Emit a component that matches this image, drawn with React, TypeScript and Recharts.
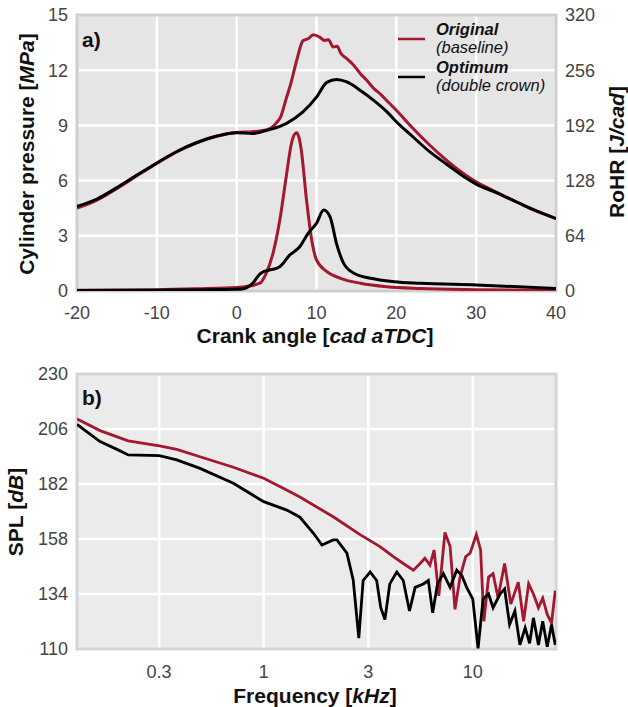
import React from "react";
import {
  CartesianGrid,
  Label,
  Legend,
  Line,
  LineChart,
  ReferenceArea,
  XAxis,
  YAxis,
} from "recharts";

const FONT = '"Liberation Sans", Arial, Helvetica, sans-serif';
const RED = "#a3172f";
const INK = "#111";
const TICK = { fill: "#444", fontSize: 18, fontFamily: FONT };

// panel a) cylinder pressure [MPa]
const pOrigCad = [-20, -17.5, -15, -12.5, -10, -7.5, -5, -2.5, 0, 2, 4, 5, 5.5, 6.2, 6.8, 7.5, 8.3, 9, 9.6, 10.4, 11, 11.5, 12.1, 12.6, 13, 13.8, 14.6, 15.5, 16.3, 17.2, 18, 18.8, 20, 22.1, 24.2, 26.3, 28.4, 30, 32.5, 35, 37.5, 40];
const pOrigVal = [4.5, 4.94, 5.57, 6.26, 6.93, 7.56, 8.05, 8.41, 8.62, 8.66, 8.8, 9.15, 9.45, 10.45, 11.3, 12.5, 13.6, 13.72, 13.93, 13.8, 13.62, 13.66, 13.26, 13.3, 12.95, 12.63, 12.3, 11.81, 11.45, 11.0, 10.7, 10.35, 9.82, 8.83, 7.92, 7.1, 6.39, 5.93, 5.38, 4.85, 4.37, 3.94];
const pOptCad = [-20, -17.5, -15, -12.5, -10, -7.5, -5, -2.5, 0, 2, 4.1, 6.2, 8.3, 10, 11.3, 12.5, 13.8, 15.5, 17.2, 18.8, 20, 22.1, 24.2, 26.3, 28.4, 30, 32.5, 35, 37.5, 40];
const pOptVal = [4.6, 5.0, 5.62, 6.3, 6.96, 7.58, 8.07, 8.42, 8.6, 8.56, 8.77, 9.1, 9.73, 10.54, 11.34, 11.49, 11.36, 10.9, 10.35, 9.75, 9.2, 8.37, 7.56, 6.89, 6.24, 5.81, 5.35, 4.85, 4.35, 3.94];

// panel a) rate of heat release [J/cad]
const hOrigCad = [-20, -10, -5, 0, 1, 2.9, 3.7, 4.55, 5.4, 6.2, 6.86, 7.2, 7.5, 7.8, 8.1, 8.75, 9.4, 10, 11.3, 13, 15.5, 18.8, 23, 30, 40];
const hOrigVal = [1, 1.5, 2.5, 4, 5, 9, 20.5, 43.7, 82, 132, 171, 181, 183.5, 178, 163, 105.5, 59, 36, 22.4, 14.7, 9, 5, 3, 1.5, 0.5];
const hOptCad = [-20, -10, 0, 1, 2, 2.9, 3.5, 4.1, 5.4, 6.65, 7.9, 8.95, 10, 10.9, 11.7, 12.5, 13.4, 14.7, 16.8, 19.7, 23, 30, 40];
const hOptVal = [0.5, 1, 2, 3, 9, 19.7, 23, 24.3, 28.2, 41.7, 51.3, 66.9, 78.5, 93.9, 86, 55.3, 32, 20.5, 14.7, 10.8, 9, 7, 3];

// panel b) sound pressure level [dB]
const fOrig = [0.128, 0.131, 0.165, 0.225, 0.317, 0.384, 0.496, 0.716, 1.0, 1.24, 1.49, 2.15, 2.89, 3.6, 4.17, 4.65, 5.2, 5.6, 5.9, 6.24, 6.53, 6.88, 7.36, 7.79, 8.22, 8.69, 9.25, 9.71, 10.4, 10.9, 11.3, 11.9, 12.5, 13.2, 14.2, 15.2, 16.5, 17.5, 18.5, 19.5, 20.6, 21.6, 22.7, 23.8, 24.8];
const splOrig = [210.4, 209.9, 205.3, 200.8, 198.6, 197.1, 193.9, 189.3, 184.5, 180.1, 176.3, 167.7, 159.9, 154.7, 150.3, 147.3, 144.4, 147.3, 149.6, 146.6, 153.2, 133.2, 160.9, 154.7, 127.3, 141.4, 150.3, 151.8, 159.9, 153.2, 122.1, 141.4, 142.9, 132.5, 147.3, 129.6, 139.2, 122.1, 138.4, 134, 128, 132.2, 125.1, 121.4, 135.5];
const fOpt = [0.128, 0.165, 0.2, 0.225, 0.317, 0.384, 0.496, 0.716, 1.0, 1.29, 1.49, 1.73, 1.9, 2.15, 2.24, 2.5, 2.68, 2.85, 2.99, 3.23, 3.47, 3.63, 3.8, 4.01, 4.33, 4.65, 4.98, 5.3, 5.8, 6.13, 6.43, 6.78, 7.23, 7.79, 8.38, 8.86, 9.35, 10.0, 10.6, 11.2, 11.9, 12.5, 13.5, 14.2, 15.0, 15.9, 16.8, 17.8, 18.7, 19.5, 20.6, 21.6, 22.7, 23.8, 24.8];
const splOpt = [208, 200.5, 197, 194.7, 194.4, 192.5, 188.8, 182.3, 174.3, 170.6, 167.5, 160.5, 155.4, 157.6, 157.6, 151.8, 140.1, 114.7, 139.9, 143.6, 139.9, 128, 122.9, 138.4, 143.6, 139.9, 126.6, 136.9, 138.4, 139.9, 125.8, 138.4, 142.9, 136.9, 144.4, 142.1, 136.9, 131.8, 110.3, 131.8, 134, 128, 134, 136.2, 120.7, 126.6, 111.8, 119.2, 112.5, 123.6, 111.8, 122.1, 111, 120.7, 111.8];

const cadTicks = [-20, -10, 0, 10, 20, 30, 40];
const pTicks = [0, 3, 6, 9, 12, 15];
const hTicks = [0, 64, 128, 192, 256, 320];
const splTicks = [110, 134, 158, 182, 206, 230];
// half-decade ticks, labelled rounded as in the original figure
const fTicks = [Math.sqrt(0.1), 1, Math.sqrt(10), 10];
const fTickLabels = ["0.3", "1", "3", "10"];

const legendItems = [
  { name: "Original", note: "(baseline)", color: RED },
  { name: "Optimum", note: "(double crown)", color: "#000" },
];

const zip = (xs: number[], ys: number[], k: string) =>
  xs.map((x, i) => ({ x, [k]: ys[i] }));

const pOrig = zip(pOrigCad, pOrigVal, "p");
const pOpt = zip(pOptCad, pOptVal, "p");
const hOrig = zip(hOrigCad, hOrigVal, "h");
const hOpt = zip(hOptCad, hOptVal, "h");
const sOrig = zip(fOrig, splOrig, "s");
const sOpt = zip(fOpt, splOpt, "s");

const titleStyle = { fontFamily: FONT, fontSize: 21, fontWeight: 700, fill: INK };

function VTitle({ x, y, main, unit }: { x: number; y: number; main: string; unit: string }) {
  return (
    <text x={x} y={y} transform={`rotate(-90 ${x} ${y})`} textAnchor="middle" style={titleStyle}>
      {main} [<tspan fontStyle="italic">{unit}</tspan>]
    </text>
  );
}

function HTitle({ x, y, main, unit }: { x: number; y: number; main: string; unit: string }) {
  return (
    <text x={x} y={y} textAnchor="middle" style={titleStyle}>
      {main} [<tspan fontStyle="italic">{unit}</tspan>]
    </text>
  );
}

function LegendBox() {
  return (
    <svg width={210} height={80} style={{ display: "block" }}>
      {legendItems.map((it, i) => (
        <g key={it.name} transform={`translate(0 ${i * 38})`}>
          <line x1={2} x2={29} y1={19} y2={19} stroke={it.color} strokeWidth={2.5} />
          <text x={40} y={15} fontFamily={FONT} fontSize={16.5} fontWeight={700} fontStyle="italic" fill={INK}>
            {it.name}
          </text>
          <text x={40} y={33} fontFamily={FONT} fontSize={16.5} fontStyle="italic" fill={INK}>
            {it.note}
          </text>
        </g>
      ))}
    </svg>
  );
}

export default function App() {
  return (
    <div style={{ position: "absolute", left: 0, top: 0, width: 628, height: 707, background: "#fff" }}>
      <div style={{ position: "absolute", left: 0, top: 0 }}>
        <LineChart width={628} height={360} margin={{ top: 15, right: 0, bottom: 0, left: 0 }}>
          <CartesianGrid fill="#e5e5e5" stroke="#fff" strokeWidth={2.5} />
          <XAxis
            type="number"
            dataKey="x"
            domain={[-20, 40]}
            ticks={cadTicks}
            allowDataOverflow
            height={69}
            axisLine={false}
            tickLine={false}
            tickSize={0}
            tickMargin={15}
            tick={TICK}
          >
            <Label content={() => <HTitle x={315} y={343} main="Crank angle" unit="cad aTDC" />} />
          </XAxis>
          <YAxis
            domain={[0, 15]}
            ticks={pTicks}
            allowDataOverflow
            width={77}
            axisLine={false}
            tickLine={false}
            tickSize={0}
            tickMargin={9}
            tick={TICK}
          >
            <Label
              content={() => (
                <g>
                  <VTitle x={34} y={154} main="Cylinder pressure" unit="MPa" />
                  <text x={82} y={47} style={titleStyle}>a)</text>
                </g>
              )}
            />
          </YAxis>
          <YAxis
            yAxisId="r"
            orientation="right"
            domain={[0, 320]}
            ticks={hTicks}
            allowDataOverflow
            width={72}
            axisLine={false}
            tickLine={false}
            tickSize={0}
            tickMargin={9}
            tick={TICK}
          >
            <Label content={() => <VTitle x={624} y={152} main="RoHR" unit="J/cad" />} />
          </YAxis>
          <ReferenceArea x1={-20} x2={40} y1={0} y2={15} fill="none" stroke="#cfcfcf" strokeWidth={3} />
          <Legend
            layout="horizontal"
            verticalAlign="middle"
            align="center"
            wrapperStyle={{ top: 20, left: 396, width: 210, height: 80 }}
            content={() => <LegendBox />}
          />
          <Line data={pOrig} dataKey="p" type="monotone" stroke={RED} strokeWidth={3} dot={false} isAnimationActive={false} />
          <Line data={hOrig} dataKey="h" yAxisId="r" type="monotone" stroke={RED} strokeWidth={3} dot={false} isAnimationActive={false} />
          <Line data={pOpt} dataKey="p" type="monotone" stroke="#000" strokeWidth={3} dot={false} isAnimationActive={false} />
          <Line data={hOpt} dataKey="h" yAxisId="r" type="monotone" stroke="#000" strokeWidth={3} dot={false} isAnimationActive={false} />
        </LineChart>
      </div>
      <div style={{ position: "absolute", left: 0, top: 360 }}>
        <LineChart width={628} height={347} margin={{ top: 14, right: 72, bottom: 0, left: 0 }}>
          <CartesianGrid fill="#ebebeb" stroke="#fff" strokeWidth={2.5} />
          <XAxis
            type="number"
            dataKey="x"
            scale="log"
            domain={[0.128, 25]}
            ticks={fTicks}
            tickFormatter={(v: number) => fTickLabels[fTicks.indexOf(v)] ?? String(v)}
            allowDataOverflow
            height={58}
            axisLine={false}
            tickLine={false}
            tickSize={0}
            tickMargin={16}
            tick={TICK}
          >
            <Label content={() => <HTitle x={315} y={343} main="Frequency" unit="kHz" />} />
          </XAxis>
          <YAxis
            domain={[110, 230]}
            ticks={splTicks}
            allowDataOverflow
            width={77}
            axisLine={false}
            tickLine={false}
            tickSize={0}
            tickMargin={9}
            tick={TICK}
          >
            <Label
              content={() => (
                <g>
                  <VTitle x={23} y={152} main="SPL" unit="dB" />
                  <text x={82} y={45} style={titleStyle}>b)</text>
                </g>
              )}
            />
          </YAxis>
          <ReferenceArea x1={0.128} x2={25} y1={110} y2={230} fill="none" stroke="#d4d4d4" strokeWidth={3} />
          <Line data={sOrig} dataKey="s" type="linear" stroke={RED} strokeWidth={2.8} dot={false} isAnimationActive={false} />
          <Line data={sOpt} dataKey="s" type="linear" stroke="#000" strokeWidth={2.8} dot={false} isAnimationActive={false} />
        </LineChart>
      </div>
    </div>
  );
}
